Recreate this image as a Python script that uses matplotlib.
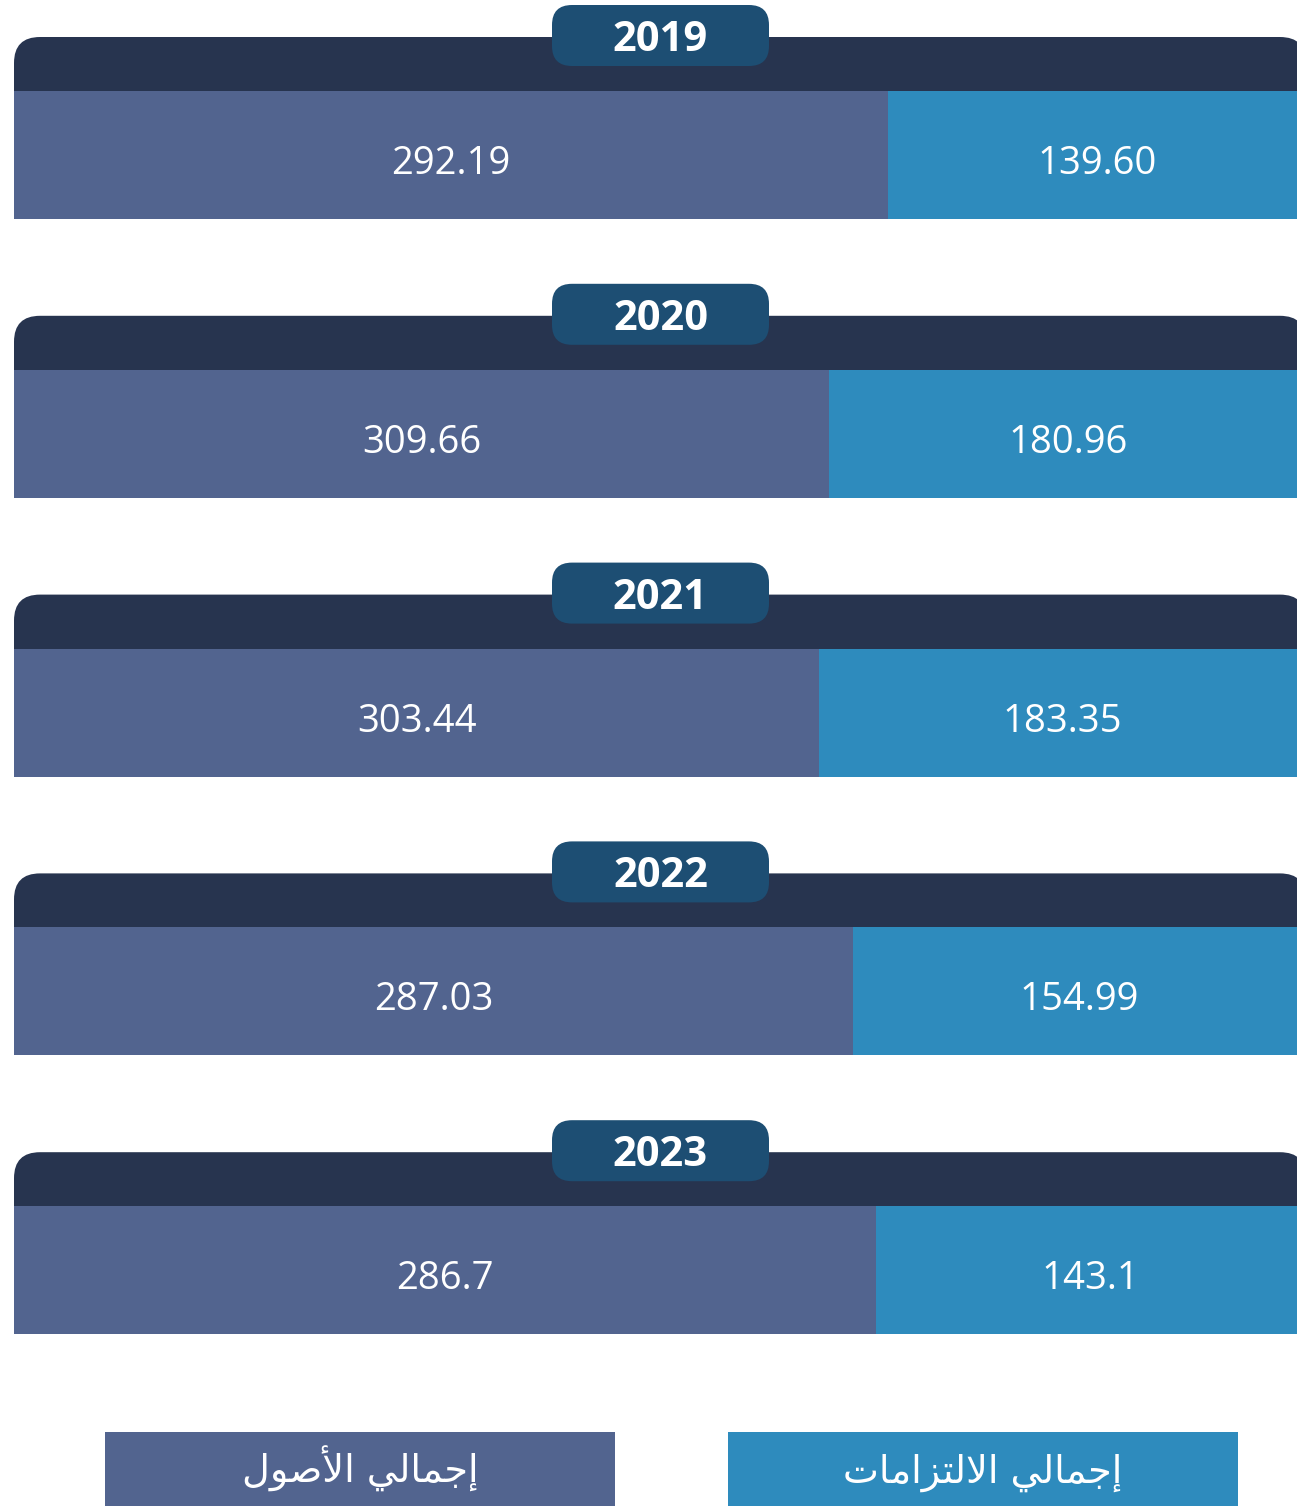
import matplotlib
matplotlib.use("Agg")
import matplotlib.pyplot as plt
from matplotlib.patches import FancyBboxPatch, Rectangle

# ---------------- data ----------------
years = ["2019", "2020", "2021", "2022", "2023"]
total_assets = [292.19, 309.66, 303.44, 287.03, 286.7]
total_liabilities = [139.60, 180.96, 183.35, 154.99, 143.1]
decimals = [2, 2, 2, 2, 1]
legend_labels = ["إجمالي الأصول", "إجمالي الالتزامات"]

# ---------------- colours ----------------
C_ASSETS = "#52648F"
C_LIAB = "#2E8BBD"
C_HEADER = "#27344F"
C_PILL = "#1D4E73"


# ---------------- minimal Arabic shaping (matplotlib has no shaper) ----------------
FORMS = {
    "ا": (0xFE8D, 0xFE8E, None, None),
    "أ": (0xFE83, 0xFE84, None, None),
    "إ": (0xFE87, 0xFE88, None, None),
    "ج": (0xFE9D, 0xFE9E, 0xFE9F, 0xFEA0),
    "م": (0xFEE1, 0xFEE2, 0xFEE3, 0xFEE4),
    "ل": (0xFEDD, 0xFEDE, 0xFEDF, 0xFEE0),
    "ي": (0xFEF1, 0xFEF2, 0xFEF3, 0xFEF4),
    "ص": (0xFEB9, 0xFEBA, 0xFEBB, 0xFEBC),
    "و": (0xFEED, 0xFEEE, None, None),
    "ت": (0xFE95, 0xFE96, 0xFE97, 0xFE98),
    "ز": (0xFEAF, 0xFEB0, None, None),
    "لا": (0xFEFB, 0xFEFC, None, None),
    "لأ": (0xFEF7, 0xFEF8, None, None),
    "لإ": (0xFEF9, 0xFEFA, None, None),
}


def shape_arabic(s):
    toks = []
    i = 0
    while i < len(s):
        if s[i] == "ل" and i + 1 < len(s) and s[i:i + 2] in FORMS:
            toks.append(s[i:i + 2]); i += 2
        else:
            toks.append(s[i]); i += 1
    out = []
    for k, t in enumerate(toks):
        if t not in FORMS:
            out.append(t); continue
        iso, fin, ini, med = FORMS[t]
        prev = toks[k - 1] if k > 0 else None
        nxt = toks[k + 1] if k + 1 < len(toks) else None
        jp = prev in FORMS and FORMS[prev][2] is not None
        jn = ini is not None and nxt in FORMS
        if jp and jn:
            c = med
        elif jp:
            c = fin
        elif jn:
            c = ini
        else:
            c = iso
        out.append(chr(c))
    return "".join(out[::-1])


# ---------------- figure ----------------
W_PX, H_PX = 1297, 1506
fig = plt.figure(figsize=(W_PX / 100, H_PX / 100), dpi=100)
ax = fig.add_axes([0, 0, 1, 1])
ax.set_xlim(0, W_PX)
ax.set_ylim(H_PX, 0)
ax.axis("off")

X0 = 14          # left edge of rows
BAR_W = 1292     # rows run past the right edge of the picture
PITCH = 278.8
FIRST_TOP = 37
HEADER_H = 54
BAR_H = 128
PILL_W, PILL_H = 217, 61

for i, yr in enumerate(years):
    top = FIRST_TOP + i * PITCH
    bar_top = top + HEADER_H
    yc = bar_top + BAR_H / 2
    tot = total_assets[i] + total_liabilities[i]
    fa = total_assets[i] / tot
    fl = total_liabilities[i] / tot

    # dark header with rounded top corners
    ax.add_patch(FancyBboxPatch((X0, top), BAR_W, HEADER_H + 40,
                                boxstyle="round,pad=0,rounding_size=26",
                                fc=C_HEADER, ec="none", zorder=1))
    # stacked bar
    ax.barh(yc, fa * BAR_W, left=X0, height=BAR_H, color=C_ASSETS, zorder=2)
    ax.barh(yc, fl * BAR_W, left=X0 + fa * BAR_W, height=BAR_H, color=C_LIAB, zorder=2)

    fmt = "{:.%df}" % decimals[i]
    base = bar_top + 83
    ax.text(X0 + fa * BAR_W / 2, base, fmt.format(total_assets[i]), color="white",
            fontsize=27.5, family="Open Sans", ha="center", va="baseline", zorder=3)
    ax.text(X0 + fa * BAR_W + fl * BAR_W / 2, base, fmt.format(total_liabilities[i]),
            color="white", fontsize=27.5, family="Open Sans", ha="center",
            va="baseline", zorder=3)

    # year pill
    px = 660.5 - PILL_W / 2
    ptop = top - 32
    ax.add_patch(FancyBboxPatch((px, ptop), PILL_W, PILL_H,
                                boxstyle="round,pad=0,rounding_size=20",
                                fc=C_PILL, ec="none", zorder=4))
    ax.text(660.5, ptop + 46, yr, color="white", fontsize=30, fontweight="bold",
            family="Open Sans", ha="center", va="baseline", zorder=5)

# ---------------- legend ----------------
leg_colors = [C_ASSETS, C_LIAB]
leg_x = [105, 728]
LEG_W = 510
LEG_TOP = 1432
for lab, col, lx in zip(legend_labels, leg_colors, leg_x):
    ax.add_patch(Rectangle((lx, LEG_TOP), LEG_W, H_PX - LEG_TOP + 5, fc=col, ec="none"))
    ax.text(lx + LEG_W / 2, LEG_TOP + 51, shape_arabic(lab), color="white",
            fontsize=27.5, family="DejaVu Sans", ha="center", va="baseline")

fig.savefig("out.png", dpi=100)
